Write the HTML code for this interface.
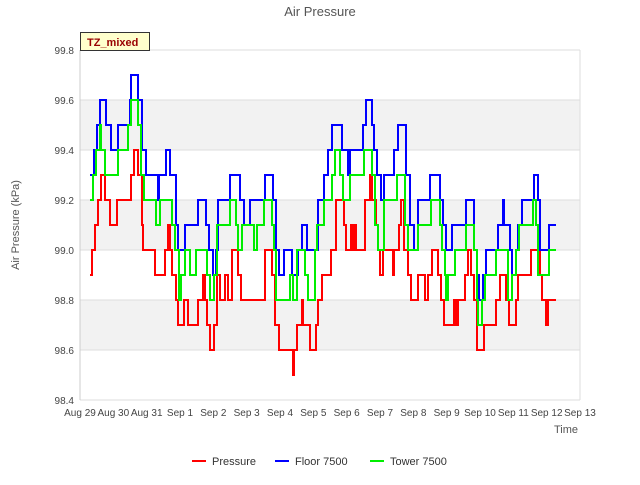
<!DOCTYPE html>
<html><head><meta charset="utf-8"><style>
body{margin:0;background:#fff;font-family:"Liberation Sans",sans-serif}
</style></head><body>
<svg id="chart" width="640" height="480" style="font-family:'Liberation Sans',sans-serif">
<rect width="640" height="480" fill="#fff"/>
<g id="bands"></g>
<g id="axes"></g>
<g id="series"></g>
<text x="320" y="16" text-anchor="middle" font-size="13" fill="#555">Air Pressure</text>
<text transform="translate(19,225) rotate(-90)" text-anchor="middle" font-size="11" fill="#555">Air Pressure (kPa)</text>
<text x="578" y="433" text-anchor="end" font-size="11" fill="#555">Time</text>
<g>
<rect x="80.5" y="32.5" width="69" height="18" fill="#ffffcc" stroke="#333" stroke-width="1"/>
<text x="87" y="46" font-size="11" font-weight="bold" fill="#990000">TZ_mixed</text>
</g>
<g>
<g><line x1="192" y1="461" x2="206" y2="461" stroke="#ff0000" stroke-width="2"/><text x="212" y="465" font-size="11" fill="#333">Pressure</text></g>
<g><line x1="275" y1="461" x2="289" y2="461" stroke="#0000ff" stroke-width="2"/><text x="295" y="465" font-size="11" fill="#333">Floor 7500</text></g>
<g><line x1="370" y1="461" x2="384" y2="461" stroke="#00ee00" stroke-width="2"/><text x="390" y="465" font-size="11" fill="#333">Tower 7500</text></g>
</g>
</svg>
<script>
const xTickLabels=["Aug 29","Aug 30","Aug 31","Sep 1","Sep 2","Sep 3","Sep 4","Sep 5","Sep 6","Sep 7","Sep 8","Sep 9","Sep 10","Sep 11","Sep 12","Sep 13"];
const yTicks=[98.4,98.6,98.8,99.0,99.2,99.4,99.6,99.8];
const pressureDays=[0.30,0.36,0.45,0.54,0.63,0.75,0.90,1.11,1.53,1.62,1.74,1.86,1.89,2.25,2.55,2.64,2.70,2.76,2.88,2.94,3.12,3.24,3.54,3.69,3.75,3.81,3.90,4.02,4.11,4.20,4.35,4.44,4.56,4.74,4.83,5.55,5.76,5.85,5.97,6.39,6.42,6.51,6.66,6.69,6.90,7.08,7.14,7.26,7.53,7.68,7.92,7.98,8.13,8.16,8.22,8.28,8.55,8.70,8.76,8.88,8.94,9.00,9.09,9.39,9.42,9.57,9.63,9.72,9.84,9.93,10.14,10.35,10.44,10.56,10.74,10.83,10.92,11.22,11.28,11.34,11.55,11.64,11.73,11.82,11.91,12.12,12.48,12.60,12.78,12.87,13.08,13.14,13.53,13.80,13.86,13.98,14.04,14.28];
const pressureValues=[98.9,99.0,99.1,99.2,99.3,99.2,99.1,99.2,99.3,99.4,99.3,99.1,99.0,98.9,99.0,99.1,99.0,98.9,98.8,98.7,98.8,98.7,98.8,98.9,98.8,98.7,98.6,98.7,98.9,98.8,98.9,98.8,99.0,98.9,98.8,99.0,98.9,98.7,98.6,98.5,98.6,98.7,98.8,98.7,98.6,98.7,98.8,98.9,99.0,99.2,99.1,99.0,99.1,99.0,99.1,99.0,99.2,99.3,99.2,99.1,99.0,98.9,99.0,98.9,99.0,99.1,99.2,99.0,98.9,98.8,98.9,98.8,98.9,99.0,98.9,98.8,98.7,98.8,98.7,98.8,98.9,99.0,98.9,98.8,98.6,98.7,98.8,98.9,98.8,98.7,98.8,98.9,99.0,98.9,98.8,98.7,98.8,98.8];
const floorDays=[0.30,0.42,0.51,0.60,0.78,0.93,1.14,1.50,1.53,1.74,1.86,1.98,2.34,2.37,2.58,2.70,2.88,2.94,3.15,3.54,3.78,3.87,3.99,4.08,4.14,4.50,4.80,4.92,5.10,5.55,5.79,5.88,5.97,6.12,6.36,6.54,6.66,6.81,7.14,7.32,7.44,7.56,7.86,8.04,8.10,8.49,8.58,8.76,8.82,8.91,9.03,9.12,9.42,9.54,9.78,9.90,10.02,10.14,10.50,10.80,10.89,10.98,11.16,11.58,11.82,11.91,11.97,12.09,12.18,12.54,12.69,12.72,12.90,12.96,13.08,13.14,13.26,13.62,13.74,13.80,14.07,14.28];
const floorValues=[99.3,99.4,99.5,99.6,99.5,99.4,99.5,99.6,99.7,99.6,99.4,99.3,99.2,99.3,99.4,99.3,99.1,99.0,99.1,99.2,99.1,99.0,98.9,99.0,99.2,99.3,99.2,99.1,99.2,99.3,99.2,99.0,98.9,99.0,98.9,99.0,99.1,99.0,99.2,99.3,99.4,99.5,99.4,99.3,99.4,99.5,99.6,99.5,99.4,99.3,99.2,99.3,99.4,99.5,99.3,99.1,99.0,99.2,99.3,99.2,99.1,99.0,99.1,99.2,99.0,98.9,98.8,98.9,99.0,99.1,99.2,99.1,99.0,98.9,99.0,99.1,99.2,99.3,99.2,99.0,99.1,99.1];
const towerDays=[0.30,0.39,0.48,0.60,0.63,0.75,1.14,1.44,1.53,1.74,1.83,1.92,2.28,2.40,2.76,2.85,2.97,3.03,3.15,3.30,3.48,3.81,3.90,4.02,4.11,4.50,4.68,4.74,4.86,5.22,5.31,5.52,5.76,5.82,5.88,6.30,6.39,6.51,6.75,6.84,7.05,7.11,7.32,7.56,7.65,7.80,7.89,8.10,8.52,8.76,8.85,8.94,9.12,9.51,9.75,9.84,10.14,10.53,10.80,10.86,10.95,10.98,11.04,11.25,11.58,11.82,11.91,11.94,12.06,12.15,12.48,12.84,12.96,13.08,13.17,13.59,13.68,13.74,14.07,14.28];
const towerValues=[99.2,99.3,99.4,99.5,99.4,99.3,99.4,99.5,99.6,99.5,99.3,99.2,99.1,99.2,99.1,99.0,98.8,98.9,99.0,98.9,99.0,98.9,98.8,98.9,99.1,99.2,99.1,99.0,99.1,99.0,99.1,99.2,99.1,99.0,98.8,98.9,98.8,99.0,98.9,98.8,99.0,99.1,99.2,99.3,99.4,99.3,99.2,99.3,99.4,99.3,99.1,99.0,99.2,99.3,99.1,99.0,99.1,99.2,99.1,99.0,98.9,98.8,98.9,99.0,99.1,99.0,98.8,98.7,98.8,98.9,99.0,98.8,98.9,99.0,99.1,99.2,99.1,98.9,99.0,99.0];

const X0=80,X1=580,Y0=400,Y1=50,D0=0,D1=15,V0=98.4,V1=99.8;
const xs=d=>X0+(d-D0)/(D1-D0)*(X1-X0);
const ys=v=>Y0-(v-V0)/(V1-V0)*(Y0-Y1);
const NS="http://www.w3.org/2000/svg";
function mk(tag,attrs,parent){const e=document.createElementNS(NS,tag);for(const k in attrs)e.setAttribute(k,attrs[k]);parent.appendChild(e);return e;}
const bands=document.getElementById('bands'),axes=document.getElementById('axes'),series=document.getElementById('series');
for(let i=0;i<yTicks.length-1;i++){
  if(i%2===1){const r=mk('rect',{x:X0,y:ys(yTicks[i+1]),width:X1-X0,height:ys(yTicks[i])-ys(yTicks[i+1]),fill:'#f2f2f2'},bands);
  
  }
}
yTicks.forEach(v=>{
  const l=mk('line',{x1:X0,x2:X1,y1:ys(v),y2:ys(v),stroke:'#dddddd','stroke-width':1},axes);
  
  
  const t=mk('text',{x:X0-6,y:ys(v)+4,'text-anchor':'end','font-size':10,fill:'#444'},axes);
  t.textContent=v.toFixed(1);
  
  
});
const ax=mk('line',{x1:X0,x2:X0,y1:Y1,y2:Y0,stroke:'#ccc'},axes);


const ax2=mk('line',{x1:X1,x2:X1,y1:Y1,y2:Y0,stroke:'#ddd'},axes);


xTickLabels.forEach((s,i)=>{
  const t=mk('text',{x:xs(i),y:Y0+16,'text-anchor':'middle','font-size':10,fill:'#444'},axes);
  t.textContent=s;
  
  
});
function step(days,vals){const n=Math.min(days.length,vals.length);let d='';for(let i=0;i<n;i++){const x=xs(days[i]),y=ys(vals[i]);if(i===0)d+='M'+x+','+y;else d+='H'+x+'V'+y;}return d;}
[[pressureDays,pressureValues,'#ff0000','line-pressure'],[floorDays,floorValues,'#0000ff','line-floor-7500'],[towerDays,towerValues,'#00ee00','line-tower-7500']].forEach(s=>{
  const p=mk('path',{d:step(s[0],s[1]),fill:'none',stroke:s[2],'stroke-width':2},series);
  
  
});
</script>
</body></html>
